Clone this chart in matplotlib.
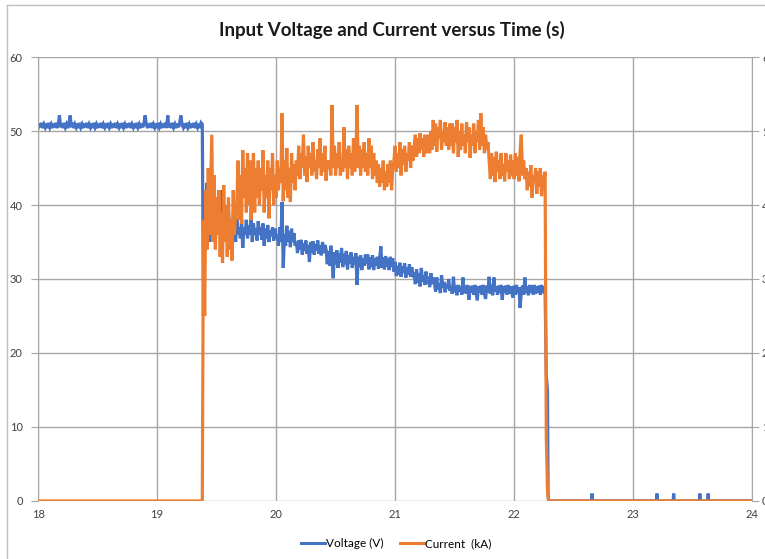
import numpy as np
import matplotlib
matplotlib.use("Agg")
import matplotlib.pyplot as plt
from matplotlib.lines import Line2D

plt.rcParams['font.family'] = ['Lato', 'DejaVu Sans']

BLUE = '#4472C4'
ORANGE = '#ED7D31'
GRID = '#A6A6A6'

# voltage before the arc strikes, sampled every 0.01 s from 18.00 s
volt_pre = [
    50.4, 51.0, 50.5, 51.1, 50.4, 50.9, 50.5, 51.0, 50.4, 51.1,
    50.5, 50.9, 50.4, 51.0, 50.5, 51.1, 50.4, 50.9, 52.1, 50.5,
    51.0, 50.4, 51.1, 50.5, 50.9, 50.4, 51.0, 52.1, 50.5, 51.1,
    50.4, 50.9, 50.5, 51.0, 50.4, 51.1, 50.5, 50.9, 50.4, 51.0,
    50.5, 51.1, 50.4, 50.9, 50.5, 51.0, 50.4, 51.1, 50.5, 50.9,
    50.4, 51.0, 50.5, 51.1, 50.4, 50.9, 50.5, 51.0, 50.4, 51.1,
    50.5, 50.9, 50.4, 51.0, 50.5, 51.1, 50.4, 50.9, 50.5, 51.0,
    50.4, 51.1, 50.5, 50.9, 50.4, 51.0, 50.5, 51.1, 50.4, 50.9,
    50.5, 51.0, 50.4, 51.1, 50.5, 50.9, 50.4, 51.0, 50.5, 51.1,
    52.1, 50.9, 50.4, 51.0, 50.5, 51.1, 50.4, 50.9, 50.5, 51.0,
    50.4, 51.1, 50.5, 50.9, 50.4, 51.0, 50.5, 51.1, 50.4, 52.1,
    50.5, 51.0, 50.4, 51.1, 50.5, 50.9, 50.4, 51.0, 50.5, 51.1,
    52.1, 50.9, 50.5, 51.0, 50.4, 51.1, 50.5, 50.9, 50.4, 51.0,
    50.5, 51.1, 50.4, 50.9, 50.5, 51.0, 50.4, 51.1, 50.9,
]

# voltage while welding, every 0.01 s from 19.39 s
volt_on = [
    25,
    41, 36, 43, 38, 44, 35, 40, 37, 42, 36, 39, 41, 36, 38, 42, 37, 39, 36, 40, 37, 39,
    37, 35.5, 38, 36, 37.5, 35, 38.2, 36, 37, 35.5, 38, 34.2, 37, 36, 38, 35.5, 37.2, 36, 38, 35,
    37.5, 36, 36.8, 35.2, 37.8, 36, 37, 35.3, 37.5, 34.5, 36.8, 35.5, 37.3, 35, 36.5, 35.8, 37, 35.2, 36.8, 35.5,
    36, 34.5, 37, 35, 40.4, 31.5, 36, 34.5, 37.2, 35, 36.5, 34.3, 36.8, 35, 36.2, 34.5,
    35, 33.5, 35.2, 34, 35.3, 33.3, 34.8, 33.8, 35.2, 33.4, 34.6, 32.3, 35, 33.6, 35.1, 33.3, 34.7, 33.8, 35.2, 33.4,
    34.5, 33.2, 35, 33.5, 34.6,
    34, 32, 33.8, 31.8, 34.5, 32.5, 30.1, 33.6, 32, 33.9, 31.5, 33.5, 32.2, 34.2, 31.6, 33.4, 32, 33.8, 31.3, 33.2,
    32.1, 33.6, 31.5, 33, 32, 33.5, 29.2, 33, 31.6, 33.2, 31.2, 32.8, 31.8, 33.3,
    32, 33.3, 31.3, 32.9, 31.6, 33.2, 31.2, 32.8, 31.8, 33, 31.4, 32.7, 34.4, 31.5, 32.9, 31.3, 33.1, 31.7, 32.8, 31.2,
    33, 31.6, 32.8,
    31, 32.3, 30.4, 31.8, 30.6, 32.2, 30.3, 31.7, 30.8, 32.1, 30.2, 31.5, 30.6, 32, 30.3, 31.6, 30.5,
    30.6, 29.3, 31.3, 29.5, 30.8, 29, 31.5, 29.6, 30.5, 29.2, 31, 29.4, 30.3, 28.9, 30.8, 29.3, 30.2,
    29.5, 28.3, 30.2, 28.6, 29.4, 28.1, 30.5, 28.8, 29.6, 28.2, 29.3, 28.7, 30, 28.4,
    29, 28, 30.3, 28.2, 29.1, 27.8, 29.2, 28.3, 29, 27.9,
    30.2, 28.1, 29.1, 28, 29.2, 27.2, 29, 28.2, 29.1, 27.9,
    29.2, 28.1, 27.1, 29, 28.2, 29.1, 27.9, 29.2, 28, 27.3,
    29.1, 28.2, 30.3, 28, 29.2, 27.8, 30.2, 28.3, 29, 27.9,
    29.1, 28.1, 29.2, 27.2, 29, 28.2, 29.1, 27.9, 29.2, 28,
    29, 28.2, 27.5, 29.1, 27.9, 29.2, 28.1, 28.9, 26.1, 28.2,
    29.1, 27.9, 30.2, 28.1, 29, 27.8, 29.2, 28.2, 29.1, 27.9,
    29.2, 28, 29, 28.2, 29.1, 27.9, 29.2, 28.1, 29, 28.3,
]

# current (kA) while welding, every 0.01 s from 19.39 s
curr_on = [
    3.8, 2.5,
    4.2, 3.4, 4.5, 3.6, 4.3, 4.95, 3.5, 4.4, 3.4, 4.1,
    3.6, 4.2, 3.3, 3.9, 3.22, 4.27, 3.5, 4.0, 3.3, 4.1, 3.4, 3.8, 3.25, 4.2, 3.6, 3.9,
    4.0, 4.6, 3.8, 4.4, 3.75, 4.74, 4.1, 4.5, 3.9, 4.7, 4.0, 4.6, 3.8, 4.3, 4.7, 3.9, 4.5, 4.1,
    4.6, 4.0, 4.5, 4.2, 4.74, 3.9, 4.4, 4.1, 4.6, 3.82, 4.5, 4.2, 4.7, 4.0, 4.4, 4.1, 4.6, 4.2, 4.5,
    4.3, 5.24, 4.05, 4.6, 4.2, 4.77, 4.1, 4.5, 4.04, 4.7, 4.3, 4.55, 4.2,
    4.6, 4.4, 4.8, 4.35, 4.7, 4.5, 4.95, 4.4, 4.65, 4.31, 4.8, 4.5, 4.7, 4.4, 4.85, 4.45, 4.6, 4.35, 4.75, 4.5,
    4.9, 4.4, 4.7, 4.45, 4.8, 4.33, 4.6, 4.5,
    4.6, 4.4, 5.35, 4.5, 4.8, 4.4, 4.7, 4.5, 4.85, 4.4, 4.6, 4.45, 5.05, 4.5, 4.75, 4.35, 4.8, 4.5, 4.7, 4.4,
    4.9, 4.45, 4.6, 5.35, 4.5, 4.8, 4.4, 4.75, 4.5, 4.85, 4.45,
    4.7, 4.4, 4.9, 4.5, 4.8, 4.35, 4.7, 4.4, 4.6, 4.3, 4.55, 4.25, 4.5, 4.3, 4.6, 4.2, 4.45, 4.25, 4.55, 4.3,
    4.6, 4.2, 4.5,
    4.6, 4.8, 4.45, 4.7, 4.5, 4.85, 4.4, 4.75, 4.55, 4.8, 4.45, 4.7, 4.6, 4.85, 4.5, 4.8, 4.6,
    4.8, 4.95, 4.65, 4.9, 4.7, 4.97, 4.75, 4.9, 4.65, 4.95, 4.7, 4.85, 4.95, 4.7,
    5.0, 4.75, 5.15, 4.8, 5.1, 4.72, 5.05, 4.9, 5.15, 4.75, 5.0, 4.85, 5.12, 4.8, 5.05, 4.75, 5.1,
    4.8, 5.1, 4.7, 5.05, 4.85, 5.15, 4.65, 5.0, 4.75, 5.1, 4.8, 4.95, 4.7, 5.12, 4.85, 5.05,
    4.64, 4.95, 4.8, 5.1, 4.7, 5.0, 4.85, 5.15, 4.75, 5.24, 4.8, 5.05, 4.7, 4.95, 4.75, 4.85,
    4.6, 4.35, 4.7, 4.4, 4.65, 4.31, 4.72, 4.45, 4.6, 4.35, 4.7, 4.4, 4.55, 4.32, 4.7, 4.45, 4.6, 4.35, 4.68, 4.4,
    4.6, 4.35, 4.7, 4.4, 4.65, 4.32, 4.72, 4.95, 4.4, 4.6, 4.35,
    4.5, 4.2, 4.45, 4.25, 4.54, 4.1, 4.4, 4.3, 4.5, 4.15, 4.45, 4.25, 4.5, 4.12, 4.4, 4.3, 4.45,
]

# arc going out
t_off = [22.27, 22.28, 22.285, 22.29]
volt_off = [17, 15, 1, 0]
curr_off = [0.85, 0.15, 0.05, 0]

# small voltage blips after the weld (V)
blip_t = [22.655, 23.20, 23.34, 23.56, 23.63]
blip_v = [1.0, 1.0, 1.0, 1.0, 1.0]

t_pre = 18.0 + 0.01 * np.arange(len(volt_pre))
t_on_v = 19.39 + 0.01 * np.arange(len(volt_on))
t_on_c = 19.39 + 0.01 * np.arange(len(curr_on))

tail_t, tail_v = [], []
for bt, bv in zip(blip_t, blip_v):
    tail_t += [bt - 0.004, bt, bt + 0.004]
    tail_v += [0, bv, 0]
tail_t.append(24.0)
tail_v.append(0)

time_v = np.concatenate([t_pre, t_on_v, t_off, tail_t])
voltage = np.concatenate([volt_pre, volt_on, volt_off, tail_v])
time_c = np.concatenate([[18.0, 19.38], t_on_c, t_off, [24.0]])
current = np.concatenate([[0, 0], curr_on, curr_off, [0]])

fig = plt.figure(figsize=(7.65, 5.59), dpi=100)
ax = fig.add_axes([0.0497, 0.1038, 0.9336, 0.7942])
ax2 = ax.twinx()

ax.plot(time_v, voltage, color=BLUE, lw=2.3, solid_joinstyle='miter')
ax2.plot(time_c, current, color=ORANGE, lw=2.3, solid_joinstyle='miter')

ax.set_xlim(18, 24)
ax.set_ylim(0, 60)
ax2.set_ylim(0, 6)
ax.set_xticks(range(18, 25))
ax.set_yticks(range(0, 61, 10))
ax2.set_yticks(range(0, 7))

ax.grid(True, color=GRID, lw=1.0)
ax.set_axisbelow(True)
for a in (ax, ax2):
    for s in a.spines.values():
        s.set_visible(False)
ax.spines['left'].set_visible(True)
ax.spines['left'].set_color(GRID)
ax2.spines['right'].set_visible(True)
ax2.spines['right'].set_color(GRID)

ax.tick_params(axis='y', length=5, color=GRID, labelsize=8, pad=6, labelcolor='#404040')
ax.tick_params(axis='x', length=0, labelsize=8, pad=6, labelcolor='#404040')
ax2.tick_params(axis='y', length=5, color=GRID, labelsize=8, pad=2, labelcolor='#404040')

fig.text(0.512, 0.946, 'Input Voltage and Current versus Time (s)', ha='center',
         va='center', fontsize=13.5, fontweight='bold', color='#1a1a1a')

handles = [Line2D([], [], color=BLUE, lw=2.2), Line2D([], [], color=ORANGE, lw=2.2)]
fig.legend(handles, ['Voltage (V)', 'Current  (kA)'], loc='center',
           bbox_to_anchor=(0.518, 0.028), ncol=2, frameon=False, fontsize=8.5,
           handlelength=2.0, handletextpad=0.1, columnspacing=1.4)

# outer chart frame (left and top edges)
fig.add_artist(Line2D([0.0092, 0.0092], [0, 0.991], color='#BFBFBF', lw=1.0))
fig.add_artist(Line2D([0.0092, 1.0], [0.991, 0.991], color='#BFBFBF', lw=1.0))

fig.savefig('out.png', dpi=100)
